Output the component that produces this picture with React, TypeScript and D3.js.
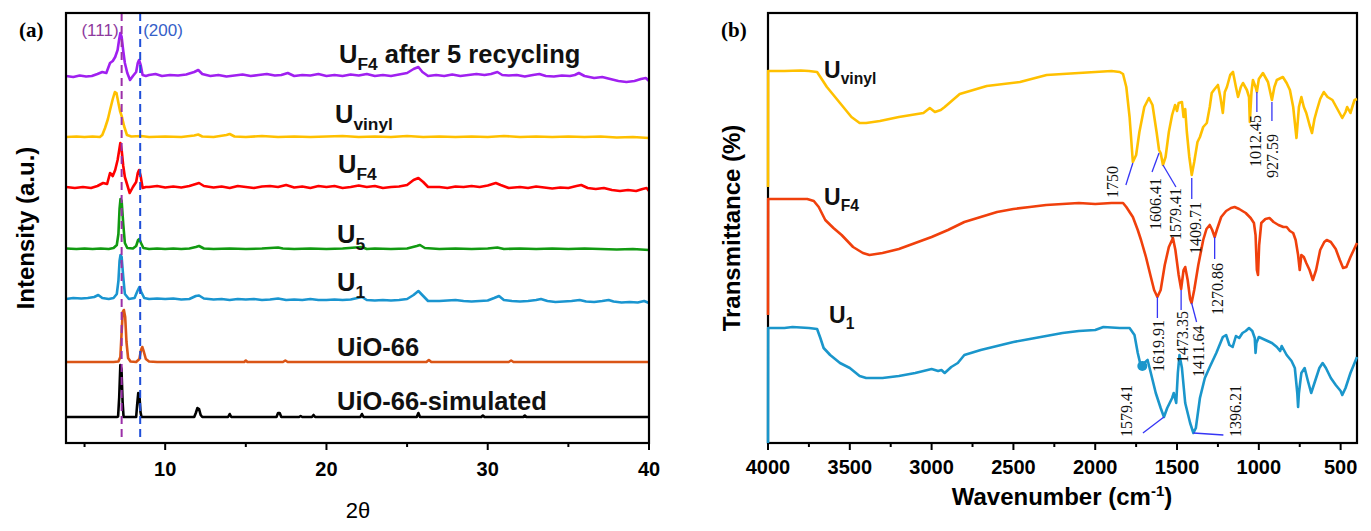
import React from "react";
import * as d3 from "d3";

type Pt = [number, number];

// ---------- Panel (a): XRD ----------
const xrdPurple: Pt[] = [[3.85,1],[4.3,0],[4.7,1.5],[5.1,0.5],[5.45,1],[5.8,3],[6.1,5],[6.35,4],[6.58,14],[6.75,16],[6.9,20],[7.05,27],[7.15,38],[7.22,44],[7.3,40],[7.4,26],[7.5,14],[7.65,4],[7.82,-3],[8.0,1],[8.2,5],[8.3,14],[8.38,17],[8.48,12],[8.6,2],[8.8,1],[9.0,2],[9.4,3],[9.8,1],[10.3,2],[10.8,1.5],[11.3,2.5],[11.8,5],[12.05,7],[12.3,3],[12.8,1],[13.3,2],[13.8,0.5],[14.3,1.5],[14.8,2.5],[15.3,1],[15.8,2],[16.3,3],[16.8,1.5],[17.2,2],[17.6,4],[18.0,1],[18.5,2],[19.0,1.5],[19.5,3],[20.0,1],[20.5,2],[21.0,1],[21.5,2.5],[22.0,1.5],[22.5,3],[23.0,1],[23.5,2],[24.0,1],[24.5,2.5],[25.0,4],[25.4,8],[25.7,10],[25.95,5],[26.3,1],[26.8,2],[27.3,1],[27.8,2.5],[28.3,1],[28.8,2],[29.3,3],[29.8,2],[30.2,3],[30.6,5],[30.9,2],[31.3,1.5],[31.8,2],[32.3,0.5],[32.8,2],[33.2,3],[33.6,1],[34.1,0.5],[34.6,1.5],[35.1,1],[35.4,2],[35.65,4],[36.0,1],[36.6,-1],[37.1,0],[37.6,-2],[38.1,-4],[38.6,-5],[39.1,-4],[39.5,-2],[39.8,-1],[40,-4]];
const xrdYellow: Pt[] = [[3.85,0],[4.5,0.5],[5,0],[5.5,0.5],[5.95,0],[6.1,2],[6.27,9],[6.45,18],[6.58,27],[6.75,38],[6.88,45],[6.98,44],[7.1,34],[7.2,26],[7.32,20],[7.45,11],[7.63,2],[7.9,0.5],[8.5,1],[9,0],[10,0.5],[11,0],[11.8,1.5],[12.05,2.5],[12.3,0.5],[13,0],[13.8,2],[14.0,3],[14.3,0.5],[15,0],[16,1],[17,0],[18,0.5],[19,0],[20,0.5],[21,1],[22,0],[23,0.5],[24,0],[25,1],[26,0],[27,0.5],[28,0],[29,0.5],[30,0],[31,1],[32,0],[33,0.5],[34,0],[35,0.5],[36,0],[37,0.5],[38,-0.5],[39,0],[40,-1]];
const xrdRed: Pt[] = [[3.85,1],[4.4,0],[4.9,1],[5.4,0],[5.8,2],[6.15,5],[6.4,4],[6.58,15],[6.75,12],[6.9,18],[7.05,28],[7.15,38],[7.22,45],[7.3,38],[7.4,22],[7.5,11],[7.65,3],[7.8,-5],[8.0,1],[8.2,6],[8.3,15],[8.38,18],[8.48,12],[8.6,0],[8.8,1],[9.0,1],[9.5,2],[10,0.5],[10.5,1.5],[11,0.5],[11.5,2],[11.9,4],[12.1,5],[12.4,2],[13,0.5],[13.5,1.5],[14,0],[14.5,2],[15,1],[15.5,0],[16,1.5],[16.5,2],[17,1],[17.5,3],[18,0.5],[18.5,1.5],[19,0],[19.5,2],[20,1],[20.5,2],[21,0],[21.5,1],[22,2.5],[22.5,1],[23,2],[23.5,0],[24,1],[24.5,1.5],[25,3],[25.4,8],[25.7,10],[26,6],[26.3,1],[27,1],[27.5,0],[28,1.5],[28.5,1],[29,2],[29.5,1],[30,2.5],[30.5,5],[30.8,3],[31.3,0],[32,1],[32.5,0],[33,1.5],[33.5,0.5],[34,-0.5],[34.5,0.5],[35,0],[35.5,2],[35.8,3],[36.2,0],[36.7,-1],[37.2,0],[37.7,-2],[38.2,-3],[38.7,-2],[39.2,-3],[39.6,-1],[39.85,0],[40,-3]];
const xrdGreen: Pt[] = [[3.85,0.5],[4.5,0],[5,0.5],[5.5,0],[6,0.5],[6.5,0],[6.8,1],[7.0,4],[7.1,15],[7.17,40],[7.23,50],[7.3,48],[7.4,25],[7.5,6],[7.65,1],[8.0,0.5],[8.2,3],[8.32,9],[8.4,10],[8.5,6],[8.65,1],[9.0,0],[9.5,0.5],[10,0],[10.5,0.5],[11,0],[11.5,0.5],[11.9,2],[12.1,3],[12.4,0.5],[13,0],[14,0.5],[15,0],[16,0.5],[17,1.5],[17.3,0.5],[18,0],[19,0.5],[20,0],[21,0.5],[22.2,2],[22.5,0],[23,0.5],[24,0],[25,0.5],[25.6,3],[25.8,4],[26.1,1],[27,0],[28,0.5],[29,0],[30,0.5],[30.6,1.5],[31,0],[32,0.5],[33,0],[34,0.5],[35,0],[36,0.5],[37,0],[38,-0.5],[39,0],[40,-1]];
const xrdBlue: Pt[] = [[3.85,0],[4.3,1],[4.8,0.5],[5.2,1],[5.6,2],[5.85,4],[6.1,1],[6.5,0],[6.8,1],[7.0,5],[7.1,18],[7.17,38],[7.23,44],[7.3,42],[7.4,22],[7.5,5],[7.75,0],[8.1,1],[8.28,8],[8.4,12],[8.52,7],[8.7,1],[9,0],[9.5,0.5],[10,0],[10.5,0.5],[11,-0.5],[11.5,0],[11.9,3],[12.1,3.5],[12.4,0.5],[13,-0.5],[13.5,0],[14,-1],[14.5,0],[15,-0.5],[15.5,0],[16,-1],[16.5,-0.5],[17,0.5],[17.5,-1],[18,-0.5],[18.5,-1],[19,0],[19.5,-1],[20,-1],[20.5,-0.5],[21,-1],[21.5,-0.5],[22.2,2],[22.5,-1],[23,-1.5],[23.5,-1],[24,-1.5],[24.5,-1],[25,0],[25.4,4],[25.7,8],[26.0,3],[26.3,-2],[27,-2],[27.5,-1.5],[28,-1],[28.5,-2],[29,-2.5],[29.5,-2],[30,-1.5],[30.4,1],[30.7,3],[31,-1],[31.5,-2],[32,-2.5],[32.5,-2],[33,-1],[33.3,0],[33.7,-2],[34.2,-3],[34.7,-2.5],[35.2,-2],[35.7,-1],[36.1,-2.5],[36.6,-3],[37.1,-2],[37.5,-1],[37.8,-2.5],[38.3,-3.5],[38.8,-3],[39.3,-3.5],[39.7,-2],[40,-4]];
const xrdOrange: Pt[] = [[3.85,0],[5,0],[6,0],[6.8,0],[7.1,0.5],[7.22,5],[7.3,30],[7.37,50],[7.44,52],[7.52,45],[7.6,20],[7.7,4],[7.85,0.5],[8.2,0],[8.4,3],[8.5,12],[8.58,15],[8.68,10],[8.8,3],[9.0,0.5],[9.5,0],[11,0],[13,0],[14.9,0],[15.0,1.5],[15.1,0],[17.3,0],[17.45,1.5],[17.6,0],[20,0],[22,0],[24,0],[26.2,0],[26.35,2],[26.5,0],[28,0],[31.3,0],[31.45,1.5],[31.6,0],[34,0],[37,0],[40,0]];
const xrdBlack: Pt[] = [[3.85,0],[7.0,0],[7.08,0.5],[7.15,20],[7.22,52],[7.29,48],[7.36,15],[7.42,0],[8.2,0],[8.26,12],[8.33,24],[8.4,22],[8.47,5],[8.53,0],[11.8,0],[11.9,4],[12.0,9],[12.1,8],[12.2,2],[12.3,0],[13.9,0],[14.0,3],[14.1,0],[16.9,0],[17.0,4],[17.1,4],[17.2,0],[18.3,0],[18.4,1],[18.5,0],[19.1,0],[19.2,2],[19.3,0],[22.1,0],[22.2,3],[22.3,0],[25.6,0],[25.7,4],[25.8,0],[29.6,0],[29.7,1.5],[29.8,0],[32.2,0],[32.3,1.5],[32.4,0],[40,0]];

const xrdNames = ["UF4 after 5 recycling", "Uvinyl", "UF4", "U5", "U1", "UiO-66", "UiO-66-simulated"];
const xrdData = [xrdPurple, xrdYellow, xrdRed, xrdGreen, xrdBlue, xrdOrange, xrdBlack];
const xrdOffsets = [366, 306, 255, 194, 144, 81, 26];
const xrdColors = ["#A020F0", "#FFC000", "#FF0000", "#119A11", "#1A95D0", "#DA5516", "#000000"];
const xrdTicks = [10, 20, 30, 40];
const xrdMinor = [5, 15, 25, 35];
const refPeaks = [{ label: "(111)", pos: 7.3 }, { label: "(200)", pos: 8.45 }];

// ---------- Panel (b): FTIR ----------
const irYellow: Pt[] = [[4000,0],[3999,116],[3900,116],[3800,116.5],[3750,116],[3700,115],[3680,110],[3640,100],[3600,92],[3560,84],[3490,70],[3440,64],[3400,64],[3316,66],[3200,70],[3050,74],[3011,79],[2980,75],[2944,77],[2920,80],[2828,93],[2663,101],[2460,105],[2297,112],[2100,114],[2000,115],[1900,116],[1850,115],[1830,113],[1810,100],[1790,70],[1770,25],[1750,32],[1730,55],[1700,80],[1672,89],[1650,82],[1625,55],[1610,37],[1600,34],[1586,22],[1570,30],[1550,55],[1530,72],[1512,82],[1500,76],[1490,84],[1470,85],[1460,70],[1450,78],[1440,55],[1425,30],[1410,12],[1395,25],[1375,45],[1360,50],[1340,60],[1318,64],[1300,80],[1288,94],[1270,98],[1250,102],[1235,90],[1220,74],[1208,95],[1195,100],[1175,112],[1158,115],[1140,100],[1127,90],[1110,100],[1097,104],[1073,97],[1060,90],[1055,65],[1045,95],[1036,107],[1020,100],[1012,95],[1000,108],[975,114],[944,105],[920,87],[905,100],[890,107],[853,110],[830,104],[810,97],[790,80],[770,49],[755,80],[740,90],[725,80],[710,74],[690,62],[675,54],[660,68],[645,77],[625,88],[603,95],[580,90],[550,87],[520,78],[490,69],[470,75],[460,80],[440,74],[425,82],[415,87],[400,88]];
const irRed: Pt[] = [[4000,0],[3999,116],[3900,116],[3760,116],[3720,114],[3690,108],[3650,95],[3600,87],[3550,80],[3480,68],[3420,62],[3380,60],[3300,62],[3200,66],[3100,72],[3000,78],[2900,85],[2800,93],[2700,98],[2600,103],[2500,106],[2400,108],[2300,110],[2100,112],[2000,111],[1900,112],[1830,112],[1810,108],[1770,98],[1740,85],[1720,75],[1690,58],[1660,38],[1640,25],[1620,18],[1600,25],[1575,50],[1550,68],[1525,77],[1510,65],[1490,40],[1475,26],[1460,45],[1450,48],[1435,35],[1420,16],[1411,12],[1395,25],[1370,50],[1340,75],[1320,86],[1300,90],[1285,85],[1270,78],[1255,86],[1230,98],[1200,104],[1170,107],[1148,108],[1120,106],[1080,102],[1050,97],[1030,92],[1020,80],[1012,45],[1005,40],[998,70],[985,92],[960,96],[935,97],[910,93],[880,90],[850,88],[830,88],[810,84],[790,82],[775,75],[760,60],[750,45],[740,60],[725,58],[710,52],[690,45],[670,35],[650,45],[625,65],[600,73],[585,75],[560,73],[530,66],[505,55],[485,47],[465,48],[440,58],[420,65],[400,72]];
const irBlue: Pt[] = [[4000,0],[3999,115],[3900,115],[3850,116],[3750,115],[3700,114],[3680,105],[3660,95],[3620,88],[3560,80],[3500,75],[3440,67],[3400,65],[3300,65],[3200,67],[3100,70],[3000,74],[2960,72],[2940,73],[2920,70],[2880,76],[2840,80],[2800,88],[2700,93],[2600,97],[2500,101],[2400,104],[2300,107],[2200,110],[2100,112],[2000,113],[1950,116],[1850,115],[1790,115],[1760,108],[1740,90],[1720,76],[1700,80],[1680,83],[1660,70],[1630,50],[1600,35],[1580,26],[1560,35],[1530,45],[1520,50],[1505,40],[1495,70],[1485,88],[1470,75],[1450,40],[1420,20],[1400,10],[1385,15],[1360,45],[1330,65],[1300,76],[1260,90],[1220,106],[1200,108],[1180,98],[1160,96],[1140,107],[1120,105],[1100,110],[1080,112],[1060,115],[1040,112],[1025,105],[1020,90],[1015,100],[1000,106],[960,103],[920,100],[890,96],[870,92],[860,97],[830,88],[800,82],[780,75],[765,50],[760,36],[755,50],[740,70],[720,75],[700,62],[680,50],[660,60],[630,75],[610,80],[590,75],[560,65],[530,58],[500,52],[490,48],[470,55],[440,70],[420,78],[400,86]];

const irNames = ["Uvinyl", "UF4", "U1"];
const irData = [irYellow, irRed, irBlue];
const irOffsets = [256, 128, 0];
const irColors = ["#FFC000", "#F0400C", "#1A96CB"];
const irTicks = [4000, 3500, 3000, 2500, 2000, 1500, 1000, 500];
const irMinor = [3750, 3250, 2750, 2250, 1750, 1250, 750];

// peak annotations: series index, label, anchor wavenumber, anchor value
const irPeaks = [
  { s: 0, label: "1750", wn: 1770, v: 24 },
  { s: 0, label: "1606.41", wn: 1610, v: 34 },
  { s: 0, label: "1579.41", wn: 1586, v: 22 },
  { s: 0, label: "1409.71", wn: 1410, v: 9 },
  { s: 0, label: "1012.45", wn: 1012, v: 95 },
  { s: 0, label: "927.59", wn: 920, v: 85 },
  { s: 1, label: "1619.91", wn: 1620, v: 18 },
  { s: 1, label: "1473.35", wn: 1475, v: 25 },
  { s: 1, label: "1411.64", wn: 1411, v: 12 },
  { s: 1, label: "1270.86", wn: 1270, v: 78 },
  { s: 2, label: "1579.41", wn: 1580, v: 26 },
  { s: 2, label: "1396.21", wn: 1400, v: 10 },
];
// leader-line end and text start offsets (px)
const peakLayout = [
  { lx: -7, ly: 22, tx: -20, ty: 35 },
  { lx: -7, ly: 19, tx: -4, ty: 77 },
  { lx: 13, ly: 22, tx: 13, ty: 75 },
  { lx: 0, ly: 21, tx: 4, ty: 76 },
  { lx: 0, ly: 20, tx: -1, ty: 75 },
  { lx: 0, ly: 19, tx: 1, ty: 76 },
  { lx: 0, ly: 21, tx: 1, ty: 75 },
  { lx: 0, ly: 20, tx: 1, ty: 73 },
  { lx: 5, ly: 19, tx: 7, ty: 74 },
  { lx: 0, ly: 22, tx: 3, ty: 78 },
  { lx: -21, ly: 16, tx: -37, ty: 20 },
  { lx: 30, ly: 2, tx: 42, ty: 4 },
];

const SANS = "'Liberation Sans', Arial, sans-serif";
const SERIF = "'Liberation Serif', 'Times New Roman', serif";

function Label({ x, y, main, sub, rest, size = 22 }: { x: number; y: number; main: string; sub?: string; rest?: string; size?: number }) {
  const shift = Math.round(size * 0.28);
  return (
    <text x={x} y={y} fontFamily={SANS} fontWeight="bold" fontSize={size} fill="#111">
      {main}
      {sub && <tspan fontSize={size * 0.68} dy={shift}>{sub}</tspan>}
      {rest && <tspan dy={-shift}>{rest}</tspan>}
    </text>
  );
}

export default function App() {
  const xA = d3.scaleLinear().domain([3.85, 40]).range([66, 649]);
  const yA = d3.scaleLinear().domain([0, 430]).range([443, 13]);
  const xB = d3.scaleLinear().domain([4000, 400]).range([768, 1357]);
  const yB = d3.scaleLinear().domain([0, 430]).range([443, 13]);

  const lineA = (off: number) => d3.line<Pt>().x((d) => xA(d[0])).y((d) => yA(d[1] + off));
  const lineB = (off: number) => d3.line<Pt>().x((d) => xB(d[0])).y((d) => yB(d[1] + off));

  const labA = [
    { x: 339, y: 63, main: "U", sub: "F4", rest: " after 5 recycling" },
    { x: 335, y: 123, main: "U", sub: "vinyl" },
    { x: 338, y: 173, main: "U", sub: "F4" },
    { x: 337, y: 243, main: "U", sub: "5" },
    { x: 337, y: 291, main: "U", sub: "1" },
    { x: 337, y: 356, main: "UiO-66" },
    { x: 337, y: 410, main: "UiO-66-simulated" },
  ];
  const labB = [
    { x: 824, y: 78, main: "U", sub: "vinyl" },
    { x: 824, y: 205, main: "U", sub: "F4" },
    { x: 829, y: 323, main: "U", sub: "1" },
  ];
  const refColors = [
    { text: "#8E3A9E", line: "#9B2FA8" },
    { text: "#3560C8", line: "#1F4FD8" },
  ];

  return (
    <svg width={1371} height={531} style={{ position: "absolute", left: 0, top: 0, background: "#fff" }}>
      <rect x={0} y={0} width={1371} height={531} fill="#fff" />
      {/* ===== Panel (a) ===== */}
      <text x={19} y={37} fontFamily={SERIF} fontWeight="bold" fontSize={21}>(a)</text>
      {xrdData.map((d, i) => (
        <path key={i} d={lineA(xrdOffsets[i])(d) || ""} fill="none" stroke={xrdColors[i]} strokeWidth={2.6} strokeLinejoin="round" />
      ))}
      {refPeaks.map((r, i) => (
        <g key={r.label}>
          <line x1={xA(r.pos)} x2={xA(r.pos)} y1={13} y2={443} stroke={refColors[i].line} strokeWidth={2} strokeDasharray="8,5" />
          <text x={i === 0 ? xA(r.pos) - 3 : xA(r.pos) + 3} y={36} textAnchor={i === 0 ? "end" : "start"} fontFamily={SANS} fontSize={17} fill={refColors[i].text}>{r.label}</text>
        </g>
      ))}
      <rect x={66} y={13} width={583} height={430} fill="none" stroke="#000" strokeWidth={2.2} />
      {xrdTicks.map((t) => (
        <g key={t}>
          <line x1={xA(t)} x2={xA(t)} y1={443} y2={450} stroke="#000" strokeWidth={2} />
          <text x={xA(t)} y={476} textAnchor="middle" fontFamily={SANS} fontWeight="bold" fontSize={20}>{t}</text>
        </g>
      ))}
      {xrdMinor.map((t) => (
        <line key={t} x1={xA(t)} x2={xA(t)} y1={443} y2={447} stroke="#000" strokeWidth={2} />
      ))}
      {labA.map((l, i) => <Label key={i} {...l} size={25.5} />)}
      <text x={358} y={518} textAnchor="middle" fontFamily={SANS} fontSize={22}>2θ</text>
      <text transform="translate(34,228) rotate(-90)" textAnchor="middle" fontFamily={SANS} fontWeight="bold" fontSize={24}>Intensity (a.u.)</text>

      {/* ===== Panel (b) ===== */}
      <text x={721} y={37} fontFamily={SERIF} fontWeight="bold" fontSize={21}>(b)</text>
      <rect x={768} y={13} width={589} height={430} fill="none" stroke="#000" strokeWidth={2.2} />
      {irData.map((d, i) => (
        <path key={i} d={lineB(irOffsets[i])(d) || ""} fill="none" stroke={irColors[i]} strokeWidth={2.6} strokeLinejoin="round" />
      ))}
      <circle cx={xB(1712)} cy={yB(77)} r={5} fill={irColors[2]} />
      {irPeaks.map((p, i) => {
        const L = peakLayout[i];
        const ax = xB(p.wn);
        const ay = yB(p.v + irOffsets[p.s]);
        return (
          <g key={i}>
            <line x1={ax} y1={ay} x2={ax + L.lx} y2={ay + L.ly} stroke="#3535F5" strokeWidth={1.3} />
            <text transform={`translate(${ax + L.tx},${ay + L.ty}) rotate(-90)`} dominantBaseline="central" fontFamily={SERIF} fontSize={16} fill="#111">{p.label}</text>
          </g>
        );
      })}
      {irTicks.map((t) => (
        <g key={t}>
          <line x1={xB(t)} x2={xB(t)} y1={443} y2={450} stroke="#000" strokeWidth={2} />
          <text x={xB(t)} y={474} textAnchor="middle" fontFamily={SANS} fontWeight="bold" fontSize={20}>{t}</text>
        </g>
      ))}
      {irMinor.map((t) => (
        <line key={t} x1={xB(t)} x2={xB(t)} y1={443} y2={447} stroke="#000" strokeWidth={2} />
      ))}
      {labB.map((l, i) => <Label key={i} {...l} size={23} />)}
      <text x={1062} y={505} textAnchor="middle" fontFamily={SANS} fontWeight="bold" fontSize={24}>
        Wavenumber (cm<tspan fontSize={15} dy={-9}>-1</tspan><tspan dy={9}>)</tspan>
      </text>
      <text transform="translate(740,228) rotate(-90)" textAnchor="middle" fontFamily={SANS} fontWeight="bold" fontSize={24}>Transmittance (%)</text>
    </svg>
  );
}
